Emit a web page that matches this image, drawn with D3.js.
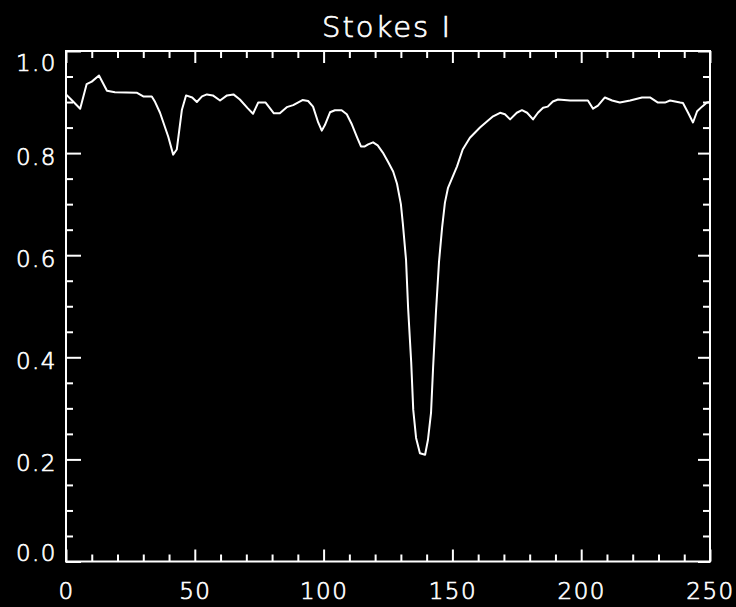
<!DOCTYPE html>
<html>
<head>
<meta charset="utf-8">
<script src="https://cdn.jsdelivr.net/npm/d3@7"></script>
<style>
  html, body { margin: 0; padding: 0; background: #000; }
  svg { display: block; }
  text { font-family: "DejaVu Sans", sans-serif; fill: #fff; font-weight: 200; stroke: #fff; stroke-width: 0.7px; }
</style>
</head>
<body>
<svg id="chart" width="736" height="607"></svg>
<script>
// Data
const pixel = [0, 2, 5.5, 8, 10, 12.8, 15.9, 19, 27.6, 30, 33.3, 34.6, 36.5, 39.7, 41.6, 43, 45, 46.6, 49, 50.8,
  52.8, 54.7, 57, 59.8, 62.5, 65, 67.5, 70.5, 72.6, 74.6, 77.5, 80.7, 83, 85.7, 88.2, 91.8, 94, 95.9, 97.9, 99.3,
  100.5, 102.5, 104.4, 107, 109, 111, 113, 114.5, 116, 117.3, 119.2, 121, 123, 125, 127, 128.5, 130, 130.8, 132, 132.8,
  134, 134.8, 135.9, 137.4, 139.4, 140.5, 141.7, 142.5, 143.6, 144.8, 146, 147.1, 148.3, 149.8, 151.8, 154, 156.8, 160.7, 163.4, 165.8,
  168.5, 170.4, 172.4, 175, 177, 179, 181.3, 183.2, 185.2, 187, 189, 191, 195.7, 199.5, 202.6, 204.6, 206.5, 209.2, 212, 215,
  219, 223.6, 226.7, 229.8, 232.5, 234.5, 238.4, 239.5, 241.5, 243.4, 245, 246.9, 248.8, 250];
const stokesI = [0.915, 0.905, 0.887, 0.935, 0.940, 0.952, 0.922, 0.919, 0.918, 0.911, 0.911, 0.900, 0.879, 0.832, 0.797, 0.807, 0.885, 0.913, 0.909, 0.900,
  0.911, 0.915, 0.913, 0.903, 0.913, 0.915, 0.905, 0.888, 0.877, 0.899, 0.899, 0.878, 0.878, 0.890, 0.894, 0.904, 0.902, 0.891, 0.860, 0.844,
  0.855, 0.880, 0.884, 0.884, 0.876, 0.856, 0.831, 0.813, 0.813, 0.817, 0.821, 0.815, 0.801, 0.783, 0.764, 0.740, 0.700, 0.660, 0.591, 0.497,
  0.391, 0.297, 0.242, 0.212, 0.209, 0.238, 0.291, 0.379, 0.487, 0.587, 0.654, 0.703, 0.732, 0.750, 0.774, 0.807, 0.830, 0.850, 0.862, 0.872,
  0.879, 0.876, 0.866, 0.879, 0.884, 0.879, 0.866, 0.879, 0.889, 0.891, 0.901, 0.905, 0.903, 0.903, 0.903, 0.887, 0.893, 0.909, 0.903, 0.899,
  0.903, 0.909, 0.909, 0.899, 0.899, 0.903, 0.899, 0.898, 0.879, 0.860, 0.882, 0.891, 0.899, 0.900];
const xMajorTicks = [0, 50, 100, 150, 200, 250];
const xMinorTicks = d3.range(0, 251, 10).filter(v => v % 50 !== 0);
const yMajorTicks = [0.0, 0.2, 0.4, 0.6, 0.8, 1.0];
const yMinorTicks = d3.range(0, 21).map(i => i * 0.05).filter((v, i) => i % 4 !== 0);
const titleText = "Stokes I";

(function () {
const svg = d3.select("#chart");
const pl = 66, pr = 710, pt = 51, pb = 561.5;
const x = d3.scaleLinear().domain([0, 250]).range([pl, pr]);
const y = d3.scaleLinear().domain([0, 1]).range([pb, pt]);

svg.append("rect").attr("width", 736).attr("height", 607).attr("fill", "#000");

function styleAxis(g) {
  g.select(".domain").remove();
  g.selectAll("line").attr("stroke", "#fff").attr("stroke-width", 2);
  g.selectAll("text").attr("fill", "#fff").attr("font-size", 23)
    .style("font-family", "'DejaVu Sans', sans-serif").style("font-weight", "200").style("letter-spacing", "1.5px");
}

// Bottom axis
svg.append("g").attr("transform", `translate(0,${pb})`)
  .call(d3.axisBottom(x).tickValues(xMinorTicks).tickSize(-7).tickFormat(""))
  .call(styleAxis);
svg.append("g").attr("transform", `translate(0,${pb})`)
  .call(d3.axisBottom(x).tickValues(xMajorTicks).tickSize(-12).tickPadding(21).tickFormat(d3.format("d")))
  .call(styleAxis);
// Top axis (ticks only)
svg.append("g").attr("transform", `translate(0,${pt})`)
  .call(d3.axisTop(x).tickValues(xMinorTicks).tickSize(-7).tickFormat(""))
  .call(styleAxis);
svg.append("g").attr("transform", `translate(0,${pt})`)
  .call(d3.axisTop(x).tickValues(xMajorTicks).tickSize(-12).tickFormat(""))
  .call(styleAxis);
// Left axis
svg.append("g").attr("transform", `translate(${pl},0)`)
  .call(d3.axisLeft(y).tickValues(yMinorTicks).tickSize(-7).tickFormat(""))
  .call(styleAxis);
const yl = svg.append("g").attr("transform", `translate(${pl},0)`)
  .call(d3.axisLeft(y).tickValues(yMajorTicks).tickSize(-15).tickPadding(9).tickFormat(d3.format(".1f")))
  .call(styleAxis);
yl.selectAll(".tick text").attr("dy", d => d === 1 ? "0.85em" : (d === 0 ? "-0.05em" : "0.5em"));
// Right axis (ticks only)
svg.append("g").attr("transform", `translate(${pr},0)`)
  .call(d3.axisRight(y).tickValues(yMinorTicks).tickSize(-7).tickFormat(""))
  .call(styleAxis);
svg.append("g").attr("transform", `translate(${pr},0)`)
  .call(d3.axisRight(y).tickValues(yMajorTicks).tickSize(-12).tickFormat(""))
  .call(styleAxis);

// Frame
svg.append("rect").attr("x", pl).attr("y", pt).attr("width", pr - pl).attr("height", pb - pt)
  .attr("fill", "none").attr("stroke", "#fff").attr("stroke-width", 2);

// Line
const pts = pixel.map((p, i) => [p, stokesI[i]]);
svg.append("path").datum(pts)
  .attr("fill", "none").attr("stroke", "#fff").attr("stroke-width", 2).attr("stroke-linejoin", "round")
  .attr("d", d3.line().x(d => x(d[0])).y(d => y(d[1])));

// Title
svg.append("text").attr("x", (pl + pr) / 2 - 1).attr("y", 37)
  .attr("text-anchor", "middle").attr("font-size", 29).style("letter-spacing", "2px")
  .text(titleText);
})();
</script>
</body>
</html>
